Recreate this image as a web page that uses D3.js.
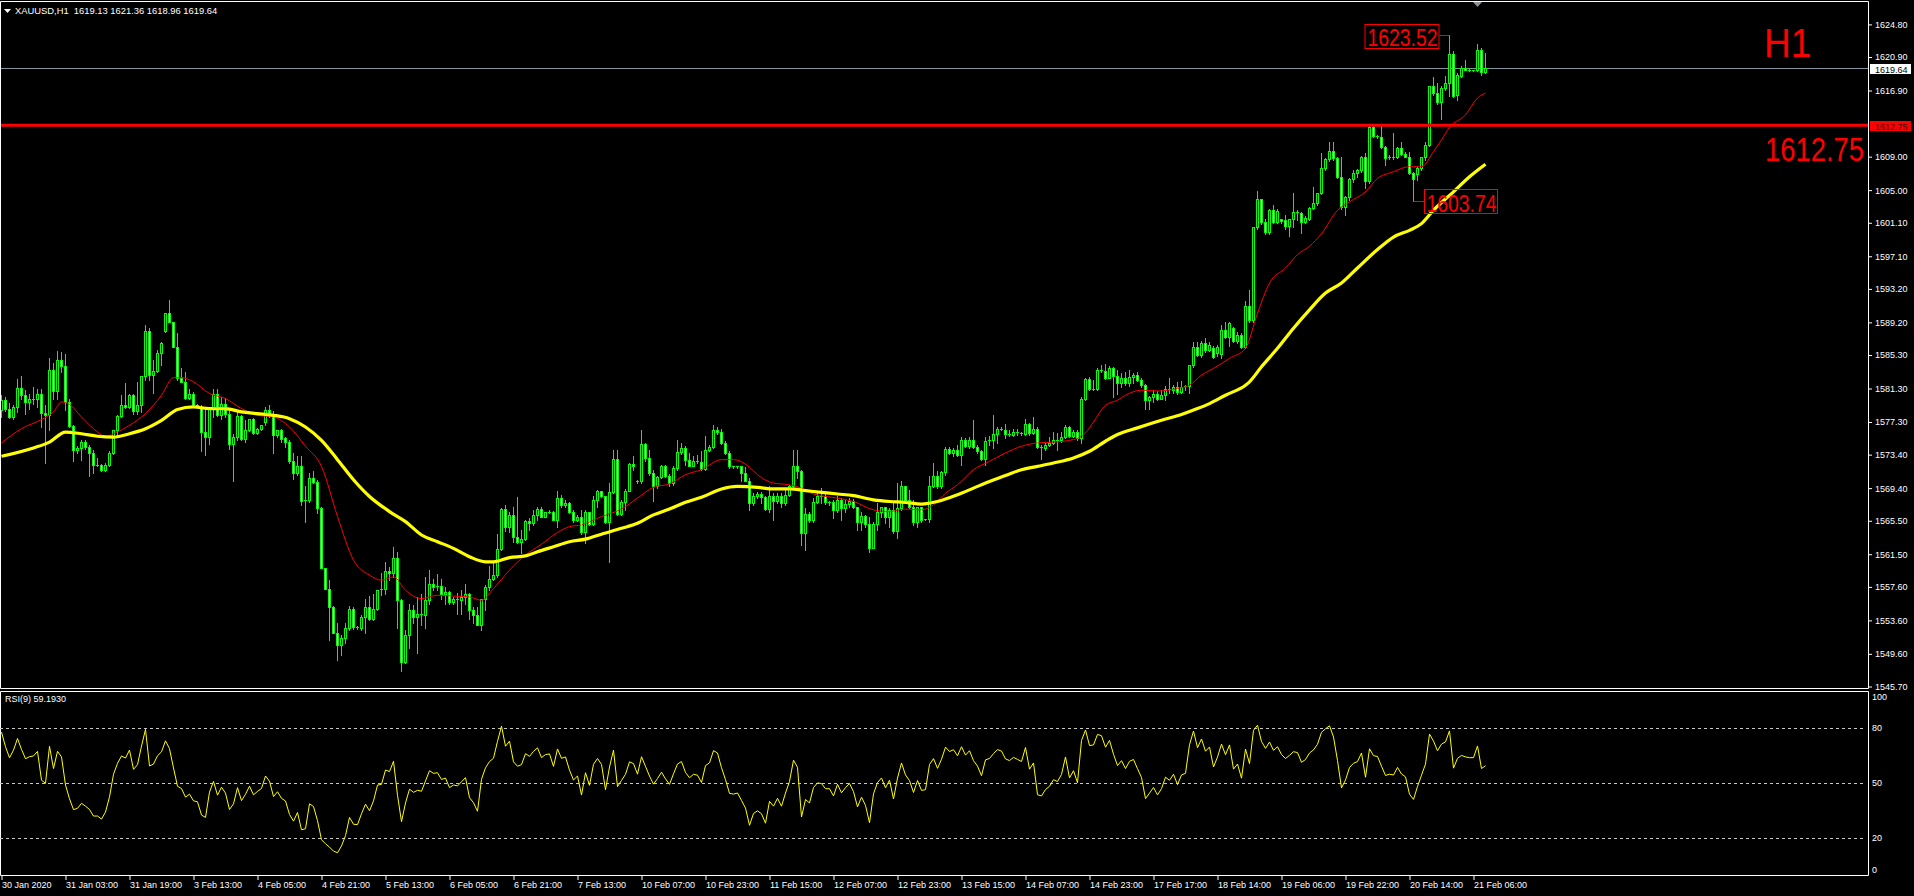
<!DOCTYPE html>
<html><head><meta charset="utf-8">
<script src="https://cdn.jsdelivr.net/npm/d3@7"></script>
<style>
html,body{margin:0;padding:0;background:#000;overflow:hidden}
svg{display:block}
text{font-family:"Liberation Sans",Arial,sans-serif}
</style></head><body>
<svg id="chart" width="1914" height="896"></svg>
<script>
const symbol = "XAUUSD";
const period = "H1";

const opens = [
1578.7,1579.9,1578.8,1577.9,1579.1,1581.4,1580.5,1579.7,1580.0,1580.1,
1580.7,1578.4,1578.1,1583.5,1581.0,1584.7,1584.0,1579.7,1576.8,1574.0,
1574.2,1574.9,1574.3,1573.6,1572.2,1572.2,1571.6,1572.2,1573.6,1576.3,
1578.0,1579.3,1579.1,1580.5,1578.6,1579.3,1582.8,1588.2,1582.9,1583.4,
1585.6,1588.2,1590.3,1589.2,1586.2,1582.6,1582.1,1580.2,1580.7,1579.3,
1579.1,1576.1,1575.5,1578.9,1580.7,1578.1,1579.4,1578.3,1574.7,1575.5,
1578.0,1575.3,1576.3,1577.6,1576.0,1576.5,1577.3,1578.7,1578.0,1575.7,
1576.3,1575.4,1574.9,1572.6,1571.2,1572.0,1567.9,1568.0,1570.6,1570.1,
1567.0,1559.8,1557.4,1555.2,1552.1,1550.7,1551.5,1552.7,1555.0,1552.8,
1552.7,1554.0,1555.2,1553.8,1555.0,1557.2,1557.3,1559.5,1559.3,1561.0,
1556.0,1548.6,1551.9,1554.8,1554.0,1554.4,1554.2,1556.0,1558.0,1557.6,
1557.7,1556.8,1557.0,1555.8,1556.1,1556.0,1556.4,1556.8,1554.8,1554.2,
1553.1,1556.1,1557.6,1558.5,1559.0,1562.1,1566.9,1564.7,1566.2,1563.6,
1563.0,1563.3,1565.5,1565.2,1566.2,1566.9,1566.0,1566.5,1566.6,1565.6,
1568.2,1567.4,1567.6,1566.5,1565.6,1566.0,1564.1,1566.5,1565.1,1568.0,
1569.0,1568.4,1565.3,1568.9,1572.9,1566.3,1567.7,1569.1,1572.3,1570.3,
1570.2,1574.7,1573.0,1571.2,1569.6,1570.7,1572.0,1570.9,1570.0,1571.8,
1573.7,1574.2,1572.8,1572.1,1572.6,1572.5,1571.7,1573.9,1574.3,1576.3,
1576.1,1574.8,1573.6,1572.0,1571.9,1572.0,1571.2,1570.3,1567.6,1568.5,
1568.7,1568.3,1566.9,1568.5,1567.9,1568.5,1567.6,1568.6,1569.6,1572.0,
1571.4,1564.0,1566.3,1565.6,1567.8,1568.5,1568.4,1567.7,1567.7,1566.8,
1568.0,1567.0,1567.5,1567.9,1567.1,1565.3,1566.1,1565.1,1562.3,1565.1,
1566.5,1567.1,1565.9,1566.8,1564.3,1567.0,1569.6,1568.0,1567.2,1565.4,
1567.1,1565.6,1565.7,1569.6,1570.8,1569.6,1571.3,1574.1,1573.6,1574.0,
1573.4,1575.2,1574.4,1575.2,1574.3,1573.8,1572.9,1575.0,1575.2,1575.9,
1576.5,1576.4,1575.9,1575.8,1576.1,1576.0,1575.9,1577.1,1576.0,1576.5,
1574.3,1574.2,1574.6,1574.8,1575.2,1575.1,1575.5,1576.7,1575.6,1576.1,
1575.4,1580.0,1582.4,1581.2,1581.3,1583.5,1583.4,1582.6,1583.8,1582.8,
1581.9,1582.5,1581.9,1582.7,1582.9,1582.3,1581.7,1579.9,1580.3,1580.7,
1580.1,1580.5,1581.3,1581.1,1581.5,1580.9,1581.5,1581.6,1584.1,1586.3,
1585.3,1586.7,1585.9,1586.1,1585.5,1585.4,1588.3,1587.5,1588.5,1587.0,
1587.7,1586.3,1591.2,1589.5,1600.6,1603.9,1601.2,1600.0,1602.6,1601.2,
1601.5,1601.4,1600.7,1601.5,1602.4,1602.3,1601.2,1601.6,1602.9,1603.5,
1604.6,1607.6,1608.7,1609.7,1608.8,1606.6,1603.0,1604.2,1606.3,1607.1,
1607.4,1609.0,1606.1,1612.5,1611.5,1611.4,1610.1,1608.8,1609.0,1608.9,
1610.0,1609.3,1609.0,1607.0,1606.9,1607.6,1608.9,1610.4,1617.4,1616.6,
1615.5,1617.2,1617.8,1621.3,1616.4,1618.6,1619.6,1619.4,1619.3,1619.3,
1621.8,1619.13];

const highs = [
1580.5,1580.3,1579.6,1579.3,1582.4,1582.8,1581.1,1580.7,1581.5,1581.2,
1581.3,1579.3,1585.0,1584.3,1585.8,1585.7,1585.4,1580.1,1577.0,1574.4,
1575.1,1575.2,1574.6,1573.9,1573.0,1572.3,1572.4,1573.8,1576.4,1578.1,
1580.5,1581.9,1580.7,1580.7,1582.1,1582.8,1588.9,1588.5,1584.7,1585.9,
1586.9,1590.3,1591.9,1589.3,1587.9,1583.7,1583.3,1581.3,1580.9,1579.5,
1579.3,1578.7,1579.1,1581.2,1581.2,1580.3,1580.2,1579.0,1575.9,1578.5,
1578.1,1577.5,1577.6,1577.8,1576.6,1577.0,1579.1,1579.3,1578.6,1576.4,
1576.5,1575.5,1575.1,1573.6,1573.2,1573.2,1569.6,1571.2,1571.4,1570.4,
1567.1,1559.9,1558.4,1555.3,1553.3,1551.8,1553.3,1555.3,1555.2,1552.9,
1554.2,1556.1,1556.5,1556.8,1557.2,1559.3,1560.6,1560.0,1562.4,1561.8,
1556.1,1552.5,1555.5,1555.4,1556.4,1556.8,1558.8,1559.6,1558.6,1559.1,
1558.6,1557.6,1557.1,1556.4,1556.9,1557.2,1558.0,1556.9,1555.2,1555.2,
1556.2,1557.8,1560.1,1560.4,1563.9,1567.0,1567.4,1566.5,1567.2,1568.3,
1564.4,1565.6,1565.8,1566.8,1567.1,1567.1,1566.6,1566.8,1566.7,1569.0,
1568.6,1568.0,1567.8,1566.8,1566.2,1566.8,1566.8,1566.6,1568.5,1569.2,
1569.1,1568.5,1570.0,1573.9,1573.9,1568.0,1569.3,1572.4,1573.2,1570.4,
1576.4,1574.8,1574.0,1571.6,1570.9,1572.2,1572.2,1571.1,1572.0,1575.1,
1574.8,1574.4,1573.6,1573.2,1573.4,1573.8,1575.6,1574.6,1576.9,1576.7,
1576.5,1575.0,1573.8,1572.1,1572.0,1572.1,1571.9,1570.6,1568.8,1568.9,
1568.9,1568.4,1569.6,1568.8,1568.8,1568.8,1569.2,1569.8,1573.9,1573.9,
1571.6,1567.0,1566.6,1568.2,1568.8,1569.4,1568.8,1567.9,1568.0,1568.4,
1568.2,1568.0,1568.2,1568.1,1567.2,1566.5,1566.2,1566.0,1565.4,1567.6,
1567.2,1567.2,1567.0,1567.6,1570.0,1570.2,1569.6,1569.2,1568.0,1567.2,
1567.2,1565.7,1570.8,1572.4,1571.4,1571.4,1574.3,1574.3,1574.2,1574.6,
1575.5,1575.4,1575.5,1577.5,1574.6,1574.0,1575.5,1575.6,1578.1,1576.7,
1576.7,1577.1,1576.3,1576.5,1576.5,1576.1,1577.6,1577.2,1577.9,1576.7,
1574.6,1574.8,1575.5,1576.1,1576.0,1576.1,1576.9,1576.8,1576.3,1576.3,
1580.3,1582.6,1582.7,1582.3,1583.7,1584.1,1584.2,1584.0,1583.9,1583.5,
1583.1,1583.3,1583.5,1583.1,1583.3,1582.5,1581.8,1580.4,1581.1,1581.0,
1581.1,1581.6,1582.5,1581.7,1582.1,1582.2,1581.7,1584.1,1586.9,1586.9,
1587.0,1587.3,1586.9,1586.4,1586.5,1588.9,1589.2,1589.3,1588.7,1588.1,
1587.9,1591.7,1593.1,1600.6,1604.9,1604.0,1601.5,1602.7,1603.2,1602.7,
1601.6,1602.0,1601.6,1604.6,1602.6,1602.4,1601.9,1603.0,1605.4,1604.7,
1609.4,1608.8,1610.8,1610.8,1609.0,1609.0,1604.3,1606.4,1607.4,1607.5,
1609.1,1609.4,1612.7,1612.7,1611.6,1612.7,1610.3,1609.2,1611.8,1610.2,
1610.7,1609.6,1609.5,1607.2,1607.8,1609.0,1610.7,1617.4,1618.5,1617.8,
1617.5,1618.6,1623.52,1621.6,1619.0,1619.8,1620.6,1619.5,1619.4,1622.5,
1621.95,1621.36];

const lows = [
1577.9,1578.6,1577.8,1577.7,1578.5,1580.1,1578.3,1578.9,1579.5,1579.1,
1576.7,1572.4,1576.3,1580.0,1580.0,1583.3,1578.7,1576.7,1572.6,1573.6,
1572.8,1574.1,1570.8,1571.2,1572.0,1571.5,1571.4,1572.1,1573.5,1575.5,
1577.9,1579.0,1579.0,1578.3,1578.3,1578.5,1582.3,1582.3,1580.8,1583.3,
1584.1,1588.1,1589.2,1586.2,1582.3,1582.1,1580.1,1580.0,1579.1,1579.1,
1573.8,1573.4,1574.7,1577.9,1578.0,1577.7,1577.9,1574.1,1570.2,1575.1,
1575.1,1574.9,1576.2,1575.9,1575.9,1576.4,1577.0,1577.9,1573.6,1575.5,
1574.9,1574.3,1572.4,1570.5,1571.0,1567.4,1565.3,1567.8,1570.0,1566.4,
1559.8,1557.4,1551.3,1552.1,1548.9,1549.5,1550.9,1552.5,1552.6,1552.6,
1552.4,1552.1,1553.6,1553.6,1554.8,1556.6,1556.8,1558.4,1558.8,1552.7,
1547.5,1548.5,1550.3,1553.3,1549.7,1553.1,1552.7,1555.6,1557.2,1557.2,
1556.2,1555.6,1555.6,1555.6,1554.4,1554.4,1555.6,1553.8,1553.3,1553.0,
1552.4,1554.8,1557.2,1558.4,1558.8,1562.0,1564.3,1564.2,1563.0,1562.8,
1561.6,1563.2,1564.4,1565.0,1565.6,1565.9,1566.0,1566.4,1565.6,1564.7,
1567.2,1567.2,1566.4,1565.4,1565.5,1563.9,1562.8,1565.0,1565.0,1567.2,
1568.3,1565.2,1560.6,1568.8,1566.2,1566.2,1566.8,1569.0,1571.6,1570.0,
1570.0,1572.6,1571.0,1567.9,1569.4,1570.6,1570.7,1569.6,1569.8,1571.6,
1573.5,1572.2,1572.0,1572.0,1572.4,1571.6,1571.6,1573.8,1574.2,1575.9,
1574.7,1573.5,1571.8,1571.8,1571.8,1570.2,1570.2,1566.8,1567.4,1568.2,
1567.6,1566.8,1566.6,1565.6,1567.6,1567.2,1567.4,1568.4,1569.4,1570.6,
1562.6,1562.0,1565.4,1565.4,1567.6,1567.6,1567.5,1567.4,1565.8,1566.6,
1565.6,1566.6,1567.2,1567.0,1564.4,1564.4,1564.8,1561.8,1562.2,1564.4,
1566.0,1565.2,1564.8,1564.0,1563.4,1566.8,1567.9,1567.0,1565.0,1564.8,
1565.4,1565.6,1565.4,1569.5,1569.4,1569.4,1571.0,1573.5,1573.2,1573.2,
1572.2,1574.3,1574.2,1574.2,1573.6,1572.8,1572.2,1574.6,1574.2,1574.8,
1576.3,1575.4,1575.6,1575.6,1575.8,1575.8,1575.8,1575.8,1575.9,1574.2,
1572.9,1574.0,1574.4,1574.7,1573.9,1574.9,1575.4,1575.5,1575.5,1575.1,
1574.8,1579.9,1581.1,1581.1,1581.1,1583.3,1582.4,1582.5,1580.3,1580.7,
1581.5,1581.7,1581.6,1581.9,1582.2,1581.5,1578.8,1578.9,1579.7,1579.9,
1580.0,1579.9,1580.8,1580.8,1580.7,1580.8,1581.1,1580.8,1583.9,1585.2,
1585.1,1585.7,1585.8,1584.9,1585.2,1585.0,1587.3,1586.4,1586.9,1586.7,
1586.1,1586.1,1589.3,1589.3,1600.4,1601.0,1599.8,1599.8,1601.1,1601.1,
1601.1,1600.4,1599.5,1600.6,1601.4,1599.9,1601.1,1601.4,1602.8,1603.2,
1604.5,1607.4,1608.5,1608.6,1606.5,1602.8,1602.0,1603.8,1606.0,1606.6,
1607.2,1605.2,1605.9,1611.3,1611.2,1610.0,1608.0,1608.7,1608.7,1608.8,
1609.2,1608.9,1606.9,1603.74,1606.2,1607.4,1608.6,1610.3,1616.4,1615.3,
1613.5,1617.0,1616.2,1616.1,1615.8,1618.5,1619.3,1619.2,1619.2,1619.2,
1618.8,1618.96];

const closes = [
1579.9,1578.8,1577.9,1579.1,1581.4,1580.5,1579.7,1580.0,1580.1,1580.7,
1578.4,1578.1,1583.5,1581.0,1584.7,1584.0,1579.7,1576.8,1574.0,1574.2,
1574.9,1574.3,1573.6,1572.2,1572.2,1571.6,1572.2,1573.6,1576.3,1578.0,
1579.3,1579.1,1580.5,1578.6,1579.3,1582.8,1588.2,1582.9,1583.4,1585.6,
1586.7,1590.3,1589.2,1586.2,1582.6,1582.1,1580.2,1580.7,1579.3,1579.1,
1576.1,1575.5,1578.9,1580.7,1578.1,1579.4,1578.3,1574.7,1575.5,1578.0,
1575.3,1576.3,1577.6,1576.0,1576.5,1576.9,1578.7,1578.0,1575.7,1576.3,
1575.3,1574.9,1572.6,1571.2,1572.0,1567.9,1568.0,1570.6,1570.1,1567.0,
1559.8,1557.4,1555.2,1552.1,1550.7,1551.5,1552.7,1555.0,1552.8,1552.7,
1554.0,1555.2,1553.8,1555.0,1557.2,1557.3,1559.5,1559.3,1561.0,1556.0,
1548.6,1551.9,1554.8,1554.0,1554.4,1554.2,1556.0,1558.0,1557.6,1557.7,
1556.8,1557.0,1555.8,1556.1,1556.0,1556.4,1556.8,1554.8,1554.2,1553.1,
1556.1,1557.6,1558.5,1559.0,1562.1,1566.9,1564.7,1566.2,1563.6,1563.0,
1563.3,1565.5,1565.2,1566.2,1566.9,1566.0,1566.5,1566.6,1565.6,1568.2,
1567.4,1567.6,1566.5,1565.6,1566.0,1564.1,1566.5,1565.1,1568.0,1569.0,
1568.4,1565.3,1568.9,1572.9,1566.3,1567.7,1569.1,1572.3,1572.0,1570.2,
1574.7,1573.0,1571.2,1569.6,1570.7,1572.0,1570.9,1570.0,1571.8,1573.7,
1574.2,1572.8,1572.1,1572.6,1572.5,1571.7,1573.9,1574.3,1576.3,1576.1,
1574.8,1573.6,1572.0,1571.9,1572.0,1571.2,1570.3,1567.6,1568.5,1568.7,
1568.3,1566.9,1568.5,1567.9,1568.5,1567.6,1568.6,1569.6,1572.0,1571.4,
1564.0,1566.3,1565.6,1567.8,1568.5,1568.4,1567.7,1567.7,1566.8,1568.0,
1567.0,1567.5,1567.9,1567.1,1565.3,1566.1,1565.1,1562.3,1565.1,1566.5,
1567.1,1565.9,1566.8,1564.3,1567.0,1569.6,1568.0,1567.2,1565.4,1567.1,
1565.6,1565.7,1569.6,1570.8,1569.6,1571.3,1574.1,1573.6,1574.0,1573.4,
1575.2,1574.4,1575.2,1574.3,1573.8,1572.9,1575.0,1575.2,1575.9,1576.5,
1576.4,1575.9,1575.8,1576.1,1576.0,1575.9,1577.1,1576.0,1576.5,1574.3,
1574.2,1574.6,1574.8,1575.2,1575.1,1575.5,1576.7,1575.6,1576.1,1575.4,
1580.0,1582.4,1581.2,1581.3,1583.5,1583.4,1582.6,1583.8,1582.8,1581.9,
1582.5,1581.9,1582.7,1582.9,1582.3,1581.7,1579.9,1580.3,1580.7,1580.1,
1580.5,1581.3,1581.1,1581.5,1580.9,1581.5,1581.6,1584.1,1586.3,1585.3,
1586.7,1585.9,1586.5,1585.1,1586.3,1588.3,1587.5,1589.1,1587.0,1587.7,
1586.3,1591.2,1589.5,1600.6,1603.9,1601.2,1600.0,1602.6,1601.2,1602.5,
1601.3,1600.7,1601.5,1602.4,1602.3,1601.2,1601.7,1602.9,1603.5,1604.6,
1607.6,1608.7,1609.7,1608.8,1606.6,1603.0,1604.2,1606.3,1607.1,1607.4,
1609.0,1606.1,1612.5,1611.5,1611.4,1610.1,1608.8,1609.0,1608.9,1610.0,
1609.3,1609.0,1607.0,1606.3,1607.6,1608.9,1610.4,1617.4,1616.6,1615.5,
1617.2,1617.8,1621.3,1616.3,1618.8,1619.6,1619.4,1619.3,1619.3,1621.8,
1619.13,1619.64];

// moving averages: [bar index, price]
const maFast = [[0,1574.8],[5,1576.5],[10,1577.6],[13,1578.5],[15,1579.7],[17,1579.4],[20,1577.9],[24,1576.1],[26,1575.5],[28,1575.9],[32,1576.9],[36,1578.3],[40,1580.5],[43,1582.6],[45,1582.6],[48,1582.1],[52,1580.7],[56,1580.1],[60,1578.9],[64,1578.1],[68,1577.9],[72,1576.7],[76,1574.4],[80,1572.0],[84,1566.0],[88,1560.8],[92,1559.0],[95,1558.4],[98,1558.8],[101,1557.2],[105,1556.2],[109,1556.6],[113,1556.5],[117,1556.4],[120,1556.0],[123,1557.4],[127,1559.6],[131,1561.4],[135,1562.7],[139,1564.1],[142,1564.8],[145,1565.0],[150,1566.0],[155,1566.9],[159,1568.2],[163,1569.5],[167,1569.9],[171,1571.0],[175,1571.6],[180,1572.8],[183,1572.8],[187,1571.9],[189,1571.0],[193,1570.0],[197,1569.8],[200,1569.4],[203,1568.7],[209,1568.2],[213,1567.8],[218,1566.8],[222,1566.6],[226,1566.9],[230,1566.8],[233,1567.4],[236,1568.8],[239,1569.8],[243,1571.6],[247,1572.6],[251,1573.6],[255,1574.4],[259,1574.8],[263,1574.9],[268,1575.2],[271,1576.0],[273,1577.3],[276,1579.3],[279,1579.9],[281,1580.5],[285,1581.1],[289,1581.0],[294,1581.3],[297,1581.7],[300,1582.9],[303,1583.7],[307,1584.9],[311,1586.1],[314,1590.3],[317,1593.9],[321,1595.7],[324,1597.3],[327,1598.3],[330,1599.8],[334,1602.6],[337,1603.6],[341,1604.8],[344,1606.4],[348,1607.2],[352,1607.8],[355,1607.8],[358,1609.6],[360,1611.0],[362,1612.5],[366,1614.0],[369,1616.0],[371,1616.6]];
const maSlow = [[0,1573.2],[8,1574.2],[12,1574.9],[16,1576.1],[20,1575.9],[24,1575.6],[28,1575.5],[32,1575.9],[36,1576.5],[40,1577.5],[44,1578.8],[48,1579.1],[52,1578.9],[56,1578.9],[60,1578.5],[64,1578.3],[68,1578.1],[72,1577.7],[76,1576.7],[80,1575.1],[84,1572.8],[88,1570.4],[92,1568.4],[97,1566.6],[101,1565.4],[105,1563.8],[109,1563.0],[113,1562.2],[117,1561.2],[121,1560.6],[123,1560.6],[127,1561.1],[131,1561.3],[134,1561.8],[138,1562.4],[142,1563.0],[146,1563.3],[150,1563.9],[155,1564.6],[159,1565.2],[163,1566.2],[167,1566.9],[171,1567.7],[175,1568.3],[180,1569.3],[184,1569.6],[189,1569.5],[193,1569.3],[197,1569.3],[201,1569.1],[205,1568.9],[209,1568.7],[213,1568.5],[218,1568.0],[222,1567.8],[226,1567.7],[230,1567.5],[234,1567.8],[239,1568.6],[243,1569.4],[247,1570.2],[251,1570.9],[255,1571.6],[259,1572.0],[263,1572.4],[268,1573.0],[272,1573.8],[276,1575.0],[279,1575.8],[284,1576.6],[290,1577.5],[295,1578.2],[299,1578.9],[302,1579.5],[306,1580.5],[311,1581.7],[312,1582.1],[315,1583.9],[319,1586.1],[323,1588.5],[327,1590.7],[331,1592.7],[335,1593.9],[339,1595.7],[344,1597.9],[348,1599.4],[352,1600.2],[355,1601.0],[358,1602.6],[363,1604.8],[367,1606.6],[371,1608.1]];

const tickBars = [0,16,32,48,64,80,96,112,128,144,160,176,192,208,224,240,256,272,288,304,320,336,352,368];
const tickLabels = ["30 Jan 2020","31 Jan 03:00","31 Jan 19:00","3 Feb 13:00","4 Feb 05:00","4 Feb 21:00","5 Feb 13:00","6 Feb 05:00","6 Feb 21:00","7 Feb 13:00","10 Feb 07:00","10 Feb 23:00","11 Feb 15:00","12 Feb 07:00","12 Feb 23:00","13 Feb 15:00","14 Feb 07:00","14 Feb 23:00","17 Feb 17:00","18 Feb 14:00","19 Feb 06:00","19 Feb 22:00","20 Feb 14:00","21 Feb 06:00"];
const priceTicks = [1624.80,1620.90,1616.90,1609.00,1605.00,1601.10,1597.10,1593.20,1589.20,1585.30,1581.30,1577.30,1573.40,1569.40,1565.50,1561.50,1557.60,1553.60,1549.60,1545.70];
const priceDomain = [1545.70, 1624.80];
const rsiTicks = [100,80,50,20,0];
const rsiLevels = [80,50,20];
const rsiPeriod = 9;
const rsiSeed = [0.9, 0.3];      // average gain / loss carried in from before the first bar
const rsiLabelValue = "59.1930";
const levelPrice = 1612.75;
const markHighBar = 362;
const markLowBar = 353;

// ---------------------------------------------------------------
const svg = d3.select("#chart");
const W = 1914, H = 896;
const plotR = 1868, mainB = 688, rsiT = 691, rsiB = 875;
const n = closes.length;
const fmt = d3.format(".2f");
const GREEN = "#00ff00";

svg.append("rect").attr("width", W).attr("height", H).attr("fill", "#000");

const x = d3.scaleLinear().domain([0, n - 1]).range([1, 1 + 4 * (n - 1)]);
const y = d3.scaleLinear().domain(priceDomain).range([686.5, 24.4]);
const yr = d3.scaleLinear().domain([0, 100]).range([874.7, 691.3]);
const px = i => Math.round(x(i));

svg.append("defs").append("clipPath").attr("id", "clipMain")
  .append("rect").attr("x", 0).attr("y", 2).attr("width", plotR).attr("height", mainB - 2);
svg.select("defs").append("clipPath").attr("id", "clipRsi")
  .append("rect").attr("x", 0).attr("y", rsiT + 1).attr("width", plotR).attr("height", rsiB - rsiT - 1);

const gMain = svg.append("g").attr("clip-path", "url(#clipMain)");

// current price line (under candles)
gMain.append("line").attr("x1", 0).attr("x2", plotR)
  .attr("y1", Math.round(y(closes[n - 1])) + 0.5).attr("y2", Math.round(y(closes[n - 1])) + 0.5)
  .attr("stroke", "#8795a3").attr("stroke-width", 1);

// candles
const cg = gMain.append("g");
const idx = d3.range(n);
cg.selectAll("line.wick").data(idx).join("line").attr("class", "wick")
  .attr("x1", i => px(i) + 0.5).attr("x2", i => px(i) + 0.5)
  .attr("y1", i => Math.round(y(Math.max(highs[i], opens[i], closes[i]))))
  .attr("y2", i => Math.round(y(Math.min(lows[i], opens[i], closes[i]))) + 1)
  .attr("stroke", GREEN).attr("stroke-width", 1);
idx.forEach(i => {
  const o = opens[i], c = closes[i];
  const top = Math.round(y(Math.max(o, c))), bot = Math.round(y(Math.min(o, c)));
  if (bot - top < 2) {
    cg.append("line").attr("x1", px(i) - 1).attr("x2", px(i) + 2)
      .attr("y1", top + 0.5).attr("y2", top + 0.5).attr("stroke", GREEN);
  } else {
    cg.append("rect").attr("x", px(i) - 0.5).attr("y", top + 0.5)
      .attr("width", 2).attr("height", bot - top)
      .attr("fill", c > o ? "#000" : "#fff").attr("stroke", GREEN).attr("stroke-width", 1);
  }
});

// moving averages
const maLine = d3.line().x(d => x(d[0]) + 0.5).y(d => y(d[1])).curve(d3.curveMonotoneX);
gMain.append("path").datum(maFast).attr("d", maLine).attr("fill", "none")
  .attr("stroke", "#ff0000").attr("stroke-width", 1);
gMain.append("path").datum(maSlow).attr("d", maLine).attr("fill", "none")
  .attr("stroke", "#ffff00").attr("stroke-width", 3.2);

// horizontal level
gMain.append("line").attr("x1", 0).attr("x2", plotR)
  .attr("y1", y(levelPrice)).attr("y2", y(levelPrice))
  .attr("stroke", "#ff0000").attr("stroke-width", 3);

// high / low markers
const hx = px(markHighBar) + 0.5, hy = Math.round(y(highs[markHighBar])) + 0.5;
gMain.append("line").attr("x1", hx - 10).attr("x2", hx).attr("y1", hy).attr("y2", hy).attr("stroke", "#ff0000");
gMain.append("rect").attr("x", hx - 84.5).attr("y", hy - 11).attr("width", 74).attr("height", 24)
  .attr("fill", "none").attr("stroke", "#ff0000");
gMain.append("text").attr("x", hx - 82).attr("y", hy + 10).attr("fill", "#ff0000")
  .attr("font-size", 23).attr("textLength", 70).attr("lengthAdjust", "spacingAndGlyphs")
  .text(fmt(highs[markHighBar]));
const lx = px(markLowBar) + 0.5, ly = Math.round(y(lows[markLowBar])) + 0.5;
gMain.append("line").attr("x1", lx).attr("x2", lx + 11).attr("y1", ly).attr("y2", ly).attr("stroke", "#ff0000");
gMain.append("rect").attr("x", lx + 11).attr("y", ly - 12).attr("width", 73).attr("height", 24)
  .attr("fill", "none").attr("stroke", "#ff0000");
gMain.append("text").attr("x", lx + 13).attr("y", ly + 10).attr("fill", "#ff0000")
  .attr("font-size", 23).attr("textLength", 70).attr("lengthAdjust", "spacingAndGlyphs")
  .text(fmt(lows[markLowBar]));

// big labels (narrow glyphs: scaled vertically so the box stays inside the plot)
gMain.append("text").attr("transform", "translate(1764,57) scale(1,1.1)").attr("fill", "#ff0000")
  .attr("font-size", 37).text(period);
gMain.append("text").attr("transform", "translate(1765,161) scale(1,1.22)").attr("fill", "#ff0000")
  .attr("font-size", 27.4).text(fmt(levelPrice));

// frames
const fr = svg.append("g").attr("stroke", "#fff").attr("stroke-width", 1).attr("fill", "none");
fr.append("path").attr("d", `M0.5,1.5H${plotR + 0.5}V${mainB + 0.5}H0.5Z`);
fr.append("path").attr("d", `M0.5,${rsiT + 0.5}H${plotR + 0.5}V${rsiB + 0.5}H0.5Z`);

// header
svg.append("path").attr("d", "M4,9H11L7.5,13Z").attr("fill", "#fff");
svg.append("text").attr("x", 15).attr("y", 14).attr("fill", "#fff").attr("font-size", 9.4)
  .attr("xml:space", "preserve")
  .text(`${symbol},${period}  ${fmt(opens[n-1])} ${fmt(highs[n-1])} ${fmt(lows[n-1])} ${fmt(closes[n-1])}`);
// chart shift marker
svg.append("path").attr("d", "M1473,2H1482L1477.5,7Z").attr("fill", "#8a9099");

// price axis
const ya = svg.append("g").attr("transform", `translate(${plotR},0)`)
  .call(d3.axisRight(y).tickValues(priceTicks).tickFormat(fmt).tickSize(4).tickPadding(3));
ya.select(".domain").remove();
ya.selectAll("line").attr("stroke", "#fff");
ya.selectAll("text").attr("fill", "#fff").attr("font-size", 9).attr("font-family", "Liberation Sans, Arial, sans-serif");

// price tags on axis
function tag(price, bg, fg) {
  const ty = Math.round(y(price));
  svg.append("rect").attr("x", 1870).attr("y", ty - 4).attr("width", 41).attr("height", 10).attr("fill", bg);
  svg.append("text").attr("x", 1875).attr("y", ty + 4.5).attr("fill", fg).attr("font-size", 9).text(fmt(price));
}
tag(closes[n - 1], "#fff", "#000");
tag(levelPrice, "#ff0000", "#3a0000");

// RSI
const rsi = [];
let ag = rsiSeed[0], al = rsiSeed[1];
closes.forEach((c, i) => {
  const ch = c - (i ? closes[i - 1] : opens[0]);
  ag = (ag * (rsiPeriod - 1) + Math.max(ch, 0)) / rsiPeriod;
  al = (al * (rsiPeriod - 1) + Math.max(-ch, 0)) / rsiPeriod;
  rsi.push(al === 0 ? 100 : 100 - 100 / (1 + ag / al));
});
const gR = svg.append("g").attr("clip-path", "url(#clipRsi)");
gR.selectAll("line.lvl").data(rsiLevels).join("line")
  .attr("x1", 0).attr("x2", plotR - 4)
  .attr("y1", d => Math.round(yr(d)) + 0.5).attr("y2", d => Math.round(yr(d)) + 0.5)
  .attr("stroke", "#c8c8c8").attr("stroke-dasharray", "3,3");
gR.append("path").datum(rsi)
  .attr("d", d3.line().x((d, i) => x(i) + 0.5).y(d => yr(d)))
  .attr("fill", "none").attr("stroke", "#ffff00").attr("stroke-width", 1);
svg.append("text").attr("x", 5).attr("y", 702).attr("fill", "#fff").attr("font-size", 9)
  .text(`RSI(${rsiPeriod}) ${rsiLabelValue}`);

const ra = svg.append("g").attr("transform", `translate(${plotR},0)`)
  .call(d3.axisRight(yr).tickValues(rsiTicks).tickSize(0).tickPadding(4));
ra.select(".domain").remove();
ra.selectAll("text").attr("fill", "#fff").attr("font-size", 9)
  .attr("font-family", "Liberation Sans, Arial, sans-serif")
  .attr("dy", d => d === 100 ? "0.95em" : d === 0 ? "-0.3em" : "0.32em");

// time axis
const xa = svg.append("g").attr("transform", `translate(0.5,${rsiB})`)
  .call(d3.axisBottom(x).tickValues(tickBars).tickFormat((d, i) => tickLabels[i]).tickSize(5));
xa.select(".domain").remove();
xa.selectAll("line").attr("stroke", "#fff");
xa.selectAll("text").attr("fill", "#fff").attr("font-size", 9)
  .attr("font-family", "Liberation Sans, Arial, sans-serif")
  .attr("text-anchor", "start").attr("x", 0).attr("y", 5).attr("dy", "0.85em");
</script>
</body></html>
